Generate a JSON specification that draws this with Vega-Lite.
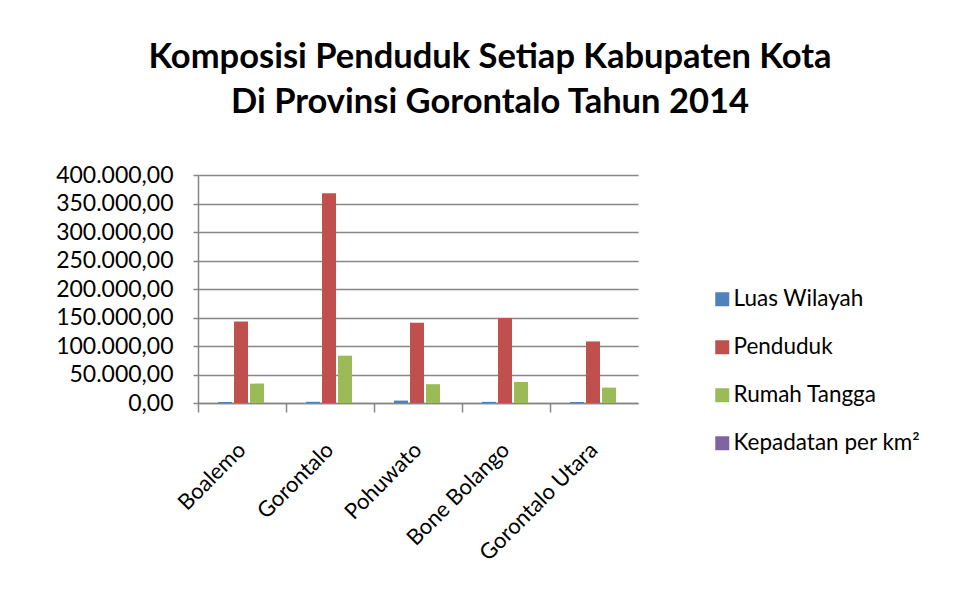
{
  "$schema": "https://vega.github.io/schema/vega-lite/v6.json",
  "width": 440,
  "height": 228,
  "autosize": {"type": "none"},
  "padding": {"left": 198, "top": 175, "right": 323, "bottom": 200},
  "background": "white",
  "title": {
    "text": ["Komposisi Penduduk Setiap Kabupaten Kota", "Di Provinsi  Gorontalo Tahun 2014"],
    "anchor": "middle",
    "frame": "group",
    "dx": 72,
    "offset": 44,
    "font": "Lato",
    "fontSize": 34.5,
    "fontWeight": "bold",
    "lineHeight": 45,
    "color": "black"
  },
  "data": {
    "values": [
      {"kabupaten": "Boalemo", "kategori": "Luas Wilayah", "nilai": 1737},
      {"kabupaten": "Boalemo", "kategori": "Penduduk", "nilai": 143000},
      {"kabupaten": "Boalemo", "kategori": "Rumah Tangga", "nilai": 34000},
      {"kabupaten": "Boalemo", "kategori": "Kepadatan per  km²", "nilai": 82},
      {"kabupaten": "Gorontalo", "kategori": "Luas Wilayah", "nilai": 2125},
      {"kabupaten": "Gorontalo", "kategori": "Penduduk", "nilai": 368000},
      {"kabupaten": "Gorontalo", "kategori": "Rumah Tangga", "nilai": 83000},
      {"kabupaten": "Gorontalo", "kategori": "Kepadatan per  km²", "nilai": 173},
      {"kabupaten": "Pohuwato", "kategori": "Luas Wilayah", "nilai": 4244},
      {"kabupaten": "Pohuwato", "kategori": "Penduduk", "nilai": 141000},
      {"kabupaten": "Pohuwato", "kategori": "Rumah Tangga", "nilai": 33000},
      {"kabupaten": "Pohuwato", "kategori": "Kepadatan per  km²", "nilai": 33},
      {"kabupaten": "Bone Bolango", "kategori": "Luas Wilayah", "nilai": 1985},
      {"kabupaten": "Bone Bolango", "kategori": "Penduduk", "nilai": 149000},
      {"kabupaten": "Bone Bolango", "kategori": "Rumah Tangga", "nilai": 37000},
      {"kabupaten": "Bone Bolango", "kategori": "Kepadatan per  km²", "nilai": 75},
      {"kabupaten": "Gorontalo Utara", "kategori": "Luas Wilayah", "nilai": 1777},
      {"kabupaten": "Gorontalo Utara", "kategori": "Penduduk", "nilai": 108000},
      {"kabupaten": "Gorontalo Utara", "kategori": "Rumah Tangga", "nilai": 27000},
      {"kabupaten": "Gorontalo Utara", "kategori": "Kepadatan per  km²", "nilai": 61}
    ]
  },
  "mark": {"type": "bar"},
  "encoding": {
    "x": {
      "field": "kabupaten",
      "type": "nominal",
      "sort": ["Boalemo", "Gorontalo", "Pohuwato", "Bone Bolango", "Gorontalo Utara"],
      "scale": {"paddingInner": 0, "paddingOuter": 0},
      "axis": {
        "title": null,
        "labelAngle": -45,
        "labelAlign": "right",
        "labelBaseline": "middle",
        "labelFontSize": 22,
        "labelFont": "Lato",
        "labelColor": "black",
        "labelPadding": 34,
        "bandPosition": 0,
        "labelOffset": 0,
        "tickSize": 9,
        "tickColor": "#868686",
        "tickWidth": 1.5,
        "domainColor": "#868686",
        "domainWidth": 1.5,
        "grid": false
      }
    },
    "xOffset": {
      "field": "kategori",
      "type": "nominal",
      "sort": ["Luas Wilayah", "Penduduk", "Rumah Tangga", "Kepadatan per  km²"],
      "scale": {"paddingInner": 0.125, "paddingOuter": 0.8125, "align": 0.77}
    },
    "y": {
      "field": "nilai",
      "type": "quantitative",
      "scale": {"domain": [0, 400000], "nice": false},
      "axis": {
        "title": null,
        "values": [0, 50000, 100000, 150000, 200000, 250000, 300000, 350000, 400000],
        "format": ",.2f",
        "labelFontSize": 23,
        "labelFont": "Lato",
        "labelColor": "black",
        "labelPadding": 20,
        "tickSize": 5,
        "tickColor": "#868686",
        "tickWidth": 1.5,
        "domainColor": "#868686",
        "domainWidth": 1.5,
        "gridColor": "#868686",
        "gridWidth": 1.5,
        "gridOpacity": 1
      }
    },
    "color": {
      "field": "kategori",
      "type": "nominal",
      "sort": ["Luas Wilayah", "Penduduk", "Rumah Tangga", "Kepadatan per  km²"],
      "scale": {
        "domain": ["Luas Wilayah", "Penduduk", "Rumah Tangga", "Kepadatan per  km²"],
        "range": ["#4F81BD", "#C0504D", "#9BBB59", "#8064A2"]
      },
      "legend": {
        "title": null,
        "orient": "none",
        "legendX": 513,
        "legendY": 113,
        "symbolType": "square",
        "symbolSize": 196,
        "symbolStrokeWidth": 0,
        "symbolOpacity": 1,
        "labelFont": "Lato",
        "labelFontSize": 22.5,
        "labelColor": "black",
        "labelOffset": 0,
        "rowPadding": 25,
        "padding": 0,
        "labelLimit": 300
      }
    }
  },
  "config": {
    "locale": {"number": {"decimal": ",", "thousands": ".", "grouping": [3], "currency": ["", ""]}},
    "view": {"stroke": null}
  }
}
